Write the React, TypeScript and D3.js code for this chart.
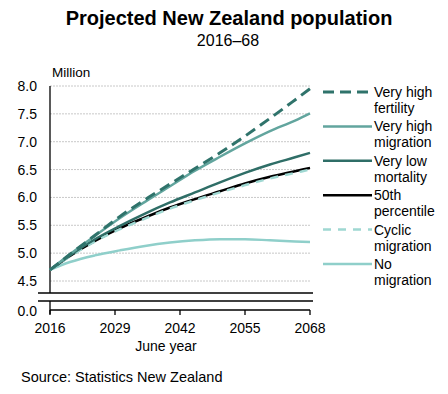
import React, { useEffect, useRef } from 'react';
import * as d3 from 'd3';

const years = [2016, 2020, 2025, 2030, 2035, 2040, 2045, 2050, 2055, 2060, 2065, 2068];

const veryHighFertility = [4.70, 4.98, 5.32, 5.66, 5.96, 6.24, 6.52, 6.80, 7.10, 7.42, 7.75, 7.95];
const veryHighMigration = [4.70, 4.98, 5.31, 5.63, 5.92, 6.20, 6.48, 6.73, 6.97, 7.19, 7.38, 7.51];
const veryLowMortality = [4.70, 4.96, 5.25, 5.49, 5.71, 5.91, 6.09, 6.27, 6.44, 6.59, 6.72, 6.80];
const percentile50 = [4.70, 4.95, 5.22, 5.45, 5.64, 5.82, 5.97, 6.11, 6.25, 6.37, 6.47, 6.53];
const cyclicMigration = [4.70, 4.94, 5.21, 5.43, 5.62, 5.80, 5.95, 6.09, 6.22, 6.34, 6.44, 6.50];
const noMigration = [4.70, 4.84, 4.96, 5.05, 5.13, 5.19, 5.23, 5.25, 5.25, 5.23, 5.21, 5.20];

const xTicks = [2016, 2029, 2042, 2055, 2068];
const yTicks = [4.5, 5.0, 5.5, 6.0, 6.5, 7.0, 7.5, 8.0];

interface Series {
  key: string;
  label: string[];
  values: number[];
  color: string;
  width: number;
  dash: string | null;
}

// ordre de dessin : du bas vers le haut
const series: Series[] = [
  { key: 'none', label: ['No', 'migration'], values: noMigration, color: '#8fcfca', width: 2.5, dash: null },
  { key: 'p50', label: ['50th', 'percentile'], values: percentile50, color: '#000000', width: 2.5, dash: null },
  { key: 'cyclic', label: ['Cyclic', 'migration'], values: cyclicMigration, color: '#9fd8d2', width: 2.5, dash: '8,7' },
  { key: 'mort', label: ['Very low', 'mortality'], values: veryLowMortality, color: '#2f6e67', width: 2.5, dash: null },
  { key: 'mig', label: ['Very high', 'migration'], values: veryHighMigration, color: '#62a59e', width: 2.5, dash: null },
  { key: 'fert', label: ['Very high', 'fertility'], values: veryHighFertility, color: '#2f736b', width: 3, dash: '11,6' },
];

const legendOrder = ['fert', 'mig', 'mort', 'p50', 'cyclic', 'none'];

export default function App() {
  const svgRef = useRef<SVGSVGElement>(null);

  useEffect(() => {
    if (!svgRef.current) return;
    const svg = d3.select(svgRef.current);
    svg.selectAll('*').remove();

    const font = 'Liberation Sans, Arial, sans-serif';
    const fs = 14;

    const x = d3.scaleLinear().domain([2016, 2068]).range([50, 310]);
    const y = d3.scaleLinear().domain([4.5, 8.0]).range([281, 86]);
    const yZero = 310;

    // Titre
    svg.append('text')
      .attr('x', 229).attr('y', 25)
      .attr('text-anchor', 'middle')
      .attr('font-family', font).attr('font-size', 20).attr('font-weight', 'bold')
      .text('Projected New Zealand population');
    svg.append('text')
      .attr('x', 228).attr('y', 46)
      .attr('text-anchor', 'middle')
      .attr('font-family', font).attr('font-size', 16)
      .text('2016–68');

    svg.append('text')
      .attr('x', 52).attr('y', 77)
      .attr('font-family', font).attr('font-size', 13.5)
      .text('Million');

    // Grille
    svg.append('g').selectAll('line')
      .data(yTicks)
      .join('line')
      .attr('x1', 50).attr('x2', 310)
      .attr('y1', d => y(d)).attr('y2', d => y(d))
      .attr('stroke', '#c8c8c8').attr('stroke-width', 1)
      .attr('stroke-dasharray', '2,1');

    // Étiquettes Y
    svg.append('g').selectAll('text')
      .data(yTicks)
      .join('text')
      .attr('x', 37).attr('y', d => y(d) + 5)
      .attr('text-anchor', 'end')
      .attr('font-family', font).attr('font-size', fs)
      .text(d => d.toFixed(1));
    svg.append('text')
      .attr('x', 37).attr('y', yZero + 6)
      .attr('text-anchor', 'end')
      .attr('font-family', font).attr('font-size', fs)
      .text('0.0');

    // Axes et coupure
    svg.append('line')
      .attr('x1', 50).attr('x2', 50).attr('y1', y(8.0)).attr('y2', 293)
      .attr('stroke', '#000').attr('stroke-width', 1.3);
    svg.append('line')
      .attr('x1', 50).attr('x2', 50).attr('y1', 301).attr('y2', yZero + 4)
      .attr('stroke', '#000').attr('stroke-width', 1.3);
    [293, 301].forEach(yy => {
      svg.append('line')
        .attr('x1', 38).attr('x2', 313).attr('y1', yy).attr('y2', yy)
        .attr('stroke', '#000').attr('stroke-width', 1.3);
    });
    svg.append('line')
      .attr('x1', 50).attr('x2', 310).attr('y1', yZero).attr('y2', yZero)
      .attr('stroke', '#000').attr('stroke-width', 1.3);
    svg.append('g').selectAll('line')
      .data(xTicks)
      .join('line')
      .attr('x1', d => x(d)).attr('x2', d => x(d))
      .attr('y1', yZero).attr('y2', yZero + 5)
      .attr('stroke', '#000').attr('stroke-width', 1.3);
    svg.append('g').selectAll('text')
      .data(xTicks)
      .join('text')
      .attr('x', d => x(d)).attr('y', 333)
      .attr('text-anchor', 'middle')
      .attr('font-family', font).attr('font-size', fs)
      .text(d => String(d));
    svg.append('text')
      .attr('x', 166).attr('y', 351)
      .attr('text-anchor', 'middle')
      .attr('font-family', font).attr('font-size', fs)
      .text('June year');

    // Lignes
    const line = d3.line<number>()
      .x((_, i) => x(years[i]))
      .y(d => y(d))
      .curve(d3.curveMonotoneX);

    series.forEach(s => {
      svg.append('path')
        .datum(s.values)
        .attr('fill', 'none')
        .attr('stroke', s.color)
        .attr('stroke-width', s.width)
        .attr('stroke-dasharray', s.dash)
        .attr('d', line);
    });

    // Légende
    const legendY = d3.scaleLinear().domain([0, 5]).range([92, 264]);
    legendOrder.forEach((k, i) => {
      const s = series.find(d => d.key === k)!;
      const ly = legendY(i);
      svg.append('line')
        .attr('x1', 323).attr('x2', 372).attr('y1', ly).attr('y2', ly)
        .attr('stroke', s.color)
        .attr('stroke-width', s.width)
        .attr('stroke-dasharray', s.dash);
      s.label.forEach((t, j) => {
        svg.append('text')
          .attr('x', 374).attr('y', ly + 5 + j * 16)
          .attr('font-family', font).attr('font-size', fs)
          .text(t);
      });
    });

    svg.append('text')
      .attr('x', 21).attr('y', 382)
      .attr('font-family', font).attr('font-size', 14.5)
      .text('Source: Statistics New Zealand');
  }, []);

  return (
    <div style={{ position: 'absolute', left: 0, top: 0 }}>
      <svg ref={svgRef} width={448} height={394} style={{ display: 'block', background: '#fff' }} />
    </div>
  );
}
